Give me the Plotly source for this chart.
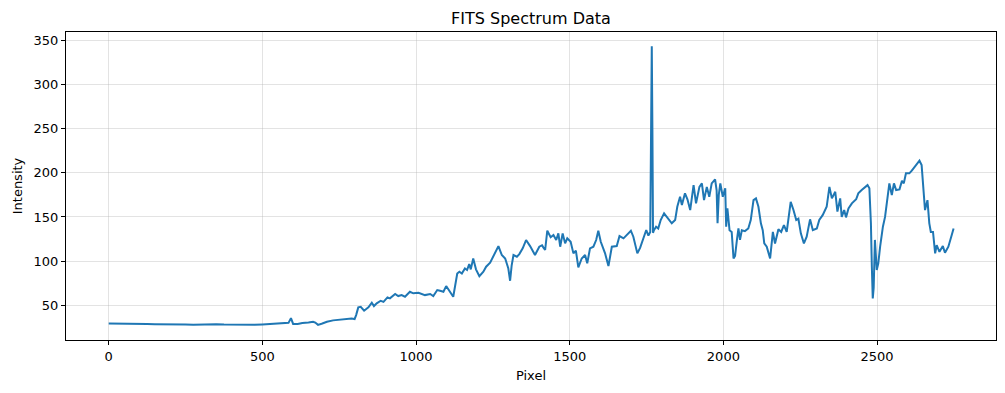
import plotly.graph_objects as go

pixel = [0, 25, 50, 75, 100, 125, 150, 175, 200, 225, 250, 275, 300, 325, 350, 375, 400, 425, 450, 475,
         500, 525, 550, 575, 585, 593, 600, 615, 630, 650, 665, 672, 681, 695, 710, 730, 750, 770, 790, 800,
         805, 812, 820, 831, 845, 856, 863, 872, 885, 894, 907, 915, 932, 942, 953, 964, 980, 991, 1008, 1029,
         1046, 1056, 1069, 1078, 1089, 1098, 1105, 1121, 1134, 1141, 1149, 1159, 1166, 1173, 1178, 1186, 1195,
         1206, 1219, 1228, 1241, 1257, 1268, 1279, 1290, 1300, 1306, 1311, 1317, 1328, 1336, 1347, 1358, 1371,
         1387, 1401, 1410, 1414, 1420, 1427, 1430, 1438, 1447, 1456, 1463, 1469, 1477, 1485, 1492, 1503, 1512,
         1520, 1528, 1539, 1550, 1557, 1566, 1577, 1586, 1593, 1601, 1615, 1626, 1637, 1653, 1662, 1675, 1691,
         1699, 1707, 1720, 1729, 1740, 1749, 1756, 1762, 1765, 1767, 1769, 1771, 1774, 1781, 1788, 1796, 1807,
         1816, 1825, 1832, 1843, 1850, 1859, 1865, 1875, 1883, 1892, 1903, 1911, 1922, 1930, 1937, 1946, 1954,
         1962, 1973, 1978, 1981, 1985, 1990, 1998, 2006, 2009, 2013, 2020, 2027, 2033, 2038, 2044, 2049, 2054,
         2060, 2070, 2081, 2089, 2098, 2106, 2114, 2122, 2128, 2133, 2141, 2152, 2161, 2168, 2179, 2188, 2197,
         2206, 2219, 2228, 2237, 2244, 2252, 2262, 2271, 2282, 2291, 2304, 2312, 2323, 2336, 2345, 2353, 2364,
         2371, 2380, 2385, 2393, 2399, 2407, 2418, 2432, 2439, 2450, 2458, 2469, 2475, 2480, 2483, 2486, 2489,
         2493, 2499, 2504, 2510, 2519, 2526, 2534, 2540, 2548, 2555, 2562, 2573, 2581, 2587, 2594, 2605, 2613,
         2624, 2631, 2638, 2645, 2651, 2656, 2664, 2670, 2675, 2682, 2689, 2694, 2703, 2714, 2721, 2732, 2743,
         2749]

intensity = [29.5, 29.2, 29.0, 29.3, 28.9, 28.8, 28.6, 28.7, 28.4, 28.2, 28.3, 28.1, 28.4, 28.3, 28.5, 28.2,
             28.0, 28.1, 27.9, 28.0, 28.4, 28.9, 29.3, 29.5, 30.2, 35.5, 29.0, 28.8, 30.0, 30.5, 31.5, 30.5,
             27.9, 29.5, 31.5, 33.0, 33.8, 34.2, 35.0, 34.5, 39.0, 47.7, 48.4, 43.9, 47.7, 53.0, 49.2, 52.3,
             55.2, 54.0, 59.0, 57.9, 62.8, 60.5, 61.6, 59.7, 65.4, 63.6, 64.3, 61.6, 62.8, 60.5, 67.3, 66.5,
             65.4, 71.8, 68.0, 59.7, 86.0, 88.0, 86.0, 91.8, 90.0, 96.7, 90.7, 103.0, 90.7, 83.0, 88.0, 93.7,
             98.2, 108.8, 117.0, 106.9, 103.0, 92.0, 77.8, 95.0, 106.9, 105.0, 108.0, 114.5, 123.9, 117.0,
             106.9, 116.3, 118.0, 115.6, 112.6, 134.4, 132.0, 127.0, 129.5, 123.9, 131.4, 116.3, 131.4, 120.1,
             125.8, 121.9, 108.8, 112.0, 93.0, 103.0, 106.9, 97.5, 114.5, 116.3, 123.9, 134.4, 121.9, 108.8,
             94.5, 116.3, 117.0, 128.4, 125.8, 131.4, 134.4, 127.6, 108.8, 115.0, 125.8, 135.2, 129.0, 133.0,
             260.0, 343.0, 250.0, 132.0, 135.0, 139.0, 137.0, 146.5, 154.0, 150.0, 146.5, 142.8, 146.5, 161.5,
             172.8, 163.5, 176.7, 170.0, 157.8, 186.0, 165.4, 184.0, 188.0, 169.0, 184.0, 172.8, 188.0, 192.5,
             180.0, 142.8, 175.0, 188.0, 172.8, 182.4, 139.0, 159.7, 135.0, 133.0, 103.0, 106.0, 124.0, 137.0,
             124.0, 135.0, 134.0, 137.0, 146.5, 169.0, 171.0, 161.5, 142.8, 135.0, 120.0, 116.3, 103.0, 133.0,
             120.0, 136.0, 133.0, 140.8, 133.0, 167.0, 157.8, 146.5, 148.0, 131.4, 120.0, 127.6, 147.3, 135.0,
             137.0, 146.5, 152.0, 161.5, 184.0, 171.0, 178.5, 156.0, 171.0, 150.0, 157.8, 149.5, 159.7, 165.4,
             170.0, 176.7, 180.4, 182.4, 186.0, 182.4, 142.8, 93.7, 57.9, 70.0, 124.0, 90.0, 97.5, 116.3, 139.0,
             150.0, 174.8, 188.0, 174.8, 188.0, 180.4, 181.2, 191.0, 188.0, 199.3, 199.3, 202.3, 206.8, 209.8,
             213.6, 208.7, 184.0, 157.8, 169.0, 142.8, 133.0, 133.0, 108.8, 118.0, 110.6, 117.0, 109.5, 116.3,
             129.5, 137.0]

x_ticks = [0, 500, 1000, 1500, 2000, 2500]
y_ticks = [50, 100, 150, 200, 250, 300, 350]

fig = go.Figure()
fig.add_trace(go.Scatter(x=pixel, y=intensity, mode="lines",
                         line=dict(color="#1f77b4", width=2), showlegend=False))

axis_common = dict(showline=True, linecolor="black", linewidth=1, mirror=True,
                   ticks="outside", ticklen=4, tickcolor="black",
                   showgrid=True, gridcolor="rgba(176,176,176,0.35)", gridwidth=1,
                   zeroline=False, automargin=False, tickfont=dict(size=13, color="black"))

# page body has an 8px margin, so offsets compensate for it
L, R, T, B = 58, 17, 24, 61
fig.update_layout(
    width=1005, height=393,
    margin=dict(l=L, r=R, t=T, b=B),
    paper_bgcolor="white", plot_bgcolor="white",
    font=dict(family="DejaVu Sans", color="black"),
    title=dict(text="FITS Spectrum Data", x=(L + 1005 - R) / 2 / 1005, xanchor="center",
               y=1 - 10 / 393, yanchor="middle", font=dict(size=16)),
    xaxis=dict(range=[-139, 2887], tickvals=x_ticks,
               title=dict(text="Pixel", font=dict(size=13), standoff=8), **axis_common),
    yaxis=dict(range=[10.8, 359.2], tickvals=y_ticks,
               title=dict(text="Intensity", font=dict(size=13), standoff=8), **axis_common),
)

fig.write_html("out.html")
